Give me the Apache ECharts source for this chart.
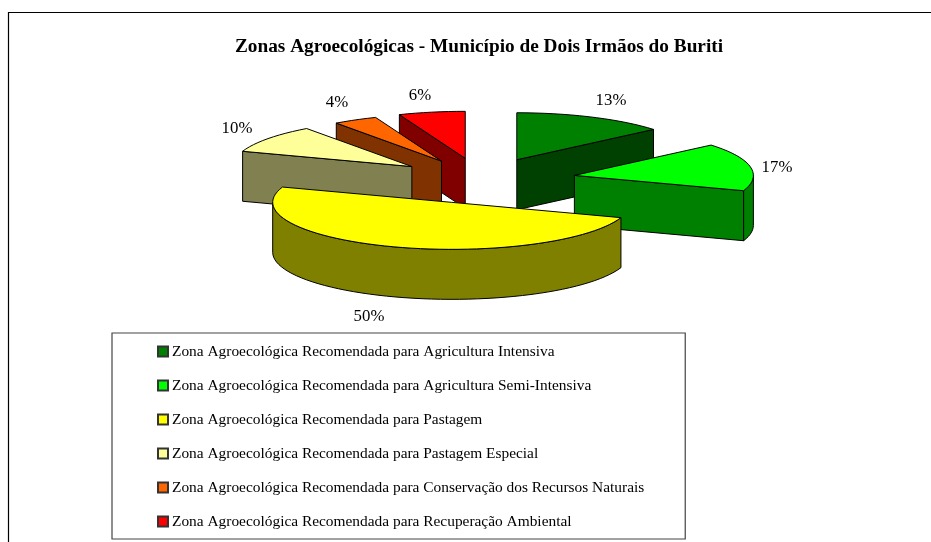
<!DOCTYPE html>
<html>
<head>
<meta charset="utf-8">
<style>
  html, body { margin: 0; padding: 0; background: #fff; }
  #chart { width: 931px; height: 542px; }
</style>
<script src="https://cdn.jsdelivr.net/npm/echarts@6/dist/echarts.min.js"></script>
</head>
<body>
<div id="chart"></div>
<script>
// dados
const categorias = [
  'Zona Agroecológica Recomendada para Agricultura Intensiva',
  'Zona Agroecológica Recomendada para Agricultura Semi-Intensiva',
  'Zona Agroecológica Recomendada para Pastagem',
  'Zona Agroecológica Recomendada para Pastagem Especial',
  'Zona Agroecológica Recomendada para Conservação dos Recursos Naturais',
  'Zona Agroecológica Recomendada para Recuperação Ambiental'
];
const valores = [13, 17, 50, 10, 4, 6];

// estilo
const cores = ['#008000', '#00ff00', '#ffff00', '#ffff99', '#ff6600', '#ff0000'];
const coresLado = ['#004000', '#008000', '#808000', '#808050', '#803300', '#800000'];
// ordem de desenho: do fundo para a frente
const ordem = [0, 5, 4, 3, 1, 2];
// ajuste em graus da borda inicial de cada fatia (perspectiva do grafico original)
const ajusteBorda = [0, 3, 1, 1, 0, 0];
const explosao = [85, 95, 90, 86, 82, 84];
const posRotulo = [[611, 101], [777, 168], [369, 317], [237, 129], [337, 103], [420, 96]];

const centro = [481, 180];
const rx = 179, ry = 47, altura = 50;
const fonte = '"Liberation Serif", "Times New Roman", serif';
const contorno = { stroke: '#000', lineWidth: 1, lineJoin: 'round' };

const total = valores.reduce((a, b) => a + b, 0);
const bordas = [];
let acum = 0;
valores.forEach((v, i) => {
  bordas.push((acum / total) * 360 + ajusteBorda[i]);
  acum += v;
});
bordas.push(360);

function ponto(ap, graus, desce) {
  const r = graus * Math.PI / 180;
  return [ap[0] + rx * Math.sin(r), ap[1] - ry * Math.cos(r) + (desce || 0)];
}

function arco(ap, a0, a1, desce) {
  const pts = [];
  const passos = Math.max(2, Math.ceil((a1 - a0) / 3));
  for (let k = 0; k <= passos; k++) {
    pts.push(ponto(ap, a0 + (a1 - a0) * k / passos, desce));
  }
  return pts;
}

function parede(pts, cor) {
  return { type: 'polygon', shape: { points: pts }, style: Object.assign({ fill: cor }, contorno) };
}

// desenha uma fatia 3D a partir do valor
function desenhaFatia(i) {
  const a0 = bordas[i], a1 = bordas[i + 1];
  const meio = (a0 + a1) / 2 * Math.PI / 180;
  const ap = [
    centro[0] + explosao[i] * Math.sin(meio),
    centro[1] - explosao[i] * Math.cos(meio) * ry / rx
  ];
  const filhos = [];
  const sin0 = Math.sin(a0 * Math.PI / 180);
  const sin1 = Math.sin(a1 * Math.PI / 180);
  if (sin0 < -0.001) {
    const p = ponto(ap, a0);
    filhos.push(parede([ap, p, [p[0], p[1] + altura], [ap[0], ap[1] + altura]], coresLado[i]));
  }
  if (sin1 > 0.001) {
    const p = ponto(ap, a1);
    filhos.push(parede([ap, p, [p[0], p[1] + altura], [ap[0], ap[1] + altura]], coresLado[i]));
  }
  const ini = Math.max(a0, 90), fim = Math.min(a1, 270);
  if (fim > ini) {
    const cima = arco(ap, ini, fim, 0);
    const baixo = arco(ap, ini, fim, altura).reverse();
    filhos.push(parede(cima.concat(baixo), coresLado[i]));
  }
  filhos.push(parede([ap].concat(arco(ap, a0, a1, 0)), cores[i]));
  return { type: 'group', children: filhos };
}

const series = ordem.map(i => ({
  name: categorias[i],
  type: 'custom',
  coordinateSystem: 'none',
  silent: true,
  animation: false,
  itemStyle: { color: cores[i], borderColor: '#333', borderWidth: 1 },
  data: [valores[i]],
  renderItem: () => desenhaFatia(i)
}));

const chart = echarts.init(document.getElementById('chart'));
chart.setOption({
  backgroundColor: '#fff',
  animation: false,
  title: {
    text: 'Zonas Agroecológicas - Município de Dois Irmãos do Buriti',
    left: 474,
    top: 33,
    textAlign: 'center',
    textStyle: { fontFamily: fonte, fontSize: 19.3, fontWeight: 'bold', color: '#000' }
  },
  legend: {
    data: categorias,
    orient: 'vertical',
    left: 112,
    top: 333,
    padding: [11, 41, 10, 45],
    itemGap: 19,
    itemWidth: 10,
    itemHeight: 10,
    icon: 'rect',
    align: 'left',
    backgroundColor: '#fff',
    borderColor: '#444',
    borderWidth: 1.2,
    selectedMode: false,
    textStyle: { fontFamily: fonte, fontSize: 15.4, color: '#000', padding: [0, 0, 0, -1] }
  },
  graphic: [
    {
      type: 'polyline',
      silent: true,
      shape: { points: [[8.5, 542], [8.5, 12.5], [931, 12.5]] },
      style: { stroke: '#000', lineWidth: 1.2, fill: null }
    }
  ].concat(valores.map((v, i) => ({
    type: 'text',
    silent: true,
    x: posRotulo[i][0],
    y: posRotulo[i][1],
    style: {
      text: v + '%',
      fontFamily: fonte,
      fontSize: 16.8,
      fill: '#000',
      align: 'center',
      verticalAlign: 'middle'
    }
  }))),
  series: series
});
</script>
</body>
</html>
